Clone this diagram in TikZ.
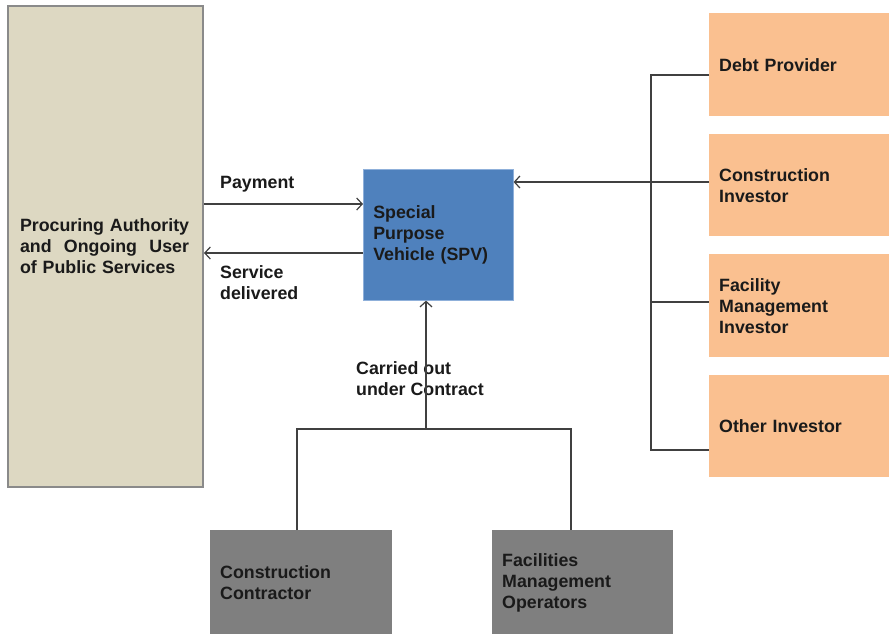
\documentclass[tikz,border=0pt]{standalone}
\usepackage{fontspec}
\setmainfont{Liberation Sans}
\usetikzlibrary{arrows.meta}
\definecolor{beigefill}{HTML}{DDD8C2}
\definecolor{beigeedge}{HTML}{8A8A8A}
\definecolor{spvblue}{HTML}{4F81BD}
\definecolor{spvedge}{HTML}{8FB0DA}
\definecolor{peach}{HTML}{FAC090}
\definecolor{greybox}{HTML}{7F7F7F}
\definecolor{wire}{HTML}{404040}
\definecolor{ink}{HTML}{1A1A1A}
\tikzset{
  lbl/.style={font=\fontsize{17.8}{21}\selectfont\bfseries, text=ink, align=left, inner sep=0pt},
  boxbase/.style={lbl, anchor=north west, inner xsep=10pt, inner ysep=0pt},
  beigebox/.style={boxbase, fill=beigefill, draw=beigeedge, line width=2pt, inner xsep=12pt},
  bluebox/.style={boxbase, fill=spvblue, draw=spvedge, line width=0.6pt},
  peachbox/.style={boxbase, fill=peach},
  greyb/.style={boxbase, fill=greybox},
  wireline/.style={draw=wire, line width=1.4pt},
  arr/.style={wireline, -{Straight Barb[length=5.5pt,width=12pt,line width=1.2pt]}}
}
\begin{document}
\begin{tikzpicture}[x=1pt,y=-1pt]
\useasboundingbox (0,0) rectangle (889,633);
% boxes
\node[beigebox, minimum width=195pt, minimum height=481pt, text width=171pt] (auth) at (7,5)
  {Procuring Authority\\\leavevmode\makebox[169pt][l]{and\hfill Ongoing\hfill User}\\of Public Services};
\node[bluebox, minimum width=150pt, minimum height=131pt, text width=130pt] (spv) at (363,169)
  {Special\\Purpose\\Vehicle (SPV)};
\node[peachbox, minimum width=182pt, minimum height=103pt, text width=162pt] (debt) at (709,13)
  {Debt Provider};
\node[peachbox, minimum width=182pt, minimum height=102pt, text width=162pt] (ci) at (709,134)
  {Construction\\Investor};
\node[peachbox, minimum width=182pt, minimum height=103pt, text width=162pt] (fmi) at (709,254)
  {Facility\\Management\\Investor};
\node[peachbox, minimum width=182pt, minimum height=102pt, text width=162pt] (oi) at (709,375)
  {Other Investor};
\node[greyb, minimum width=182pt, minimum height=105pt, text width=162pt] (cc) at (210,530)
  {Construction\\Contractor};
\node[greyb, minimum width=181pt, minimum height=105pt, text width=161pt] (fmo) at (492,530)
  {Facilities\\Management\\Operators};
% labels
\node[lbl, anchor=west] (lpay) at (220,184) {Payment};
\node[lbl, anchor=west] (lsrv) at (220,282.5) {Service\\delivered};
\node[lbl, anchor=west] (lcar) at (356,378.5) {Carried out\\under Contract};
% coordinates
\coordinate (bt) at (651,75);
\coordinate (bb) at (651,450);
\coordinate (bm) at (651,302);
\coordinate (jl) at (297,429);
\coordinate (jr) at (571,429);
\coordinate (jm) at (426,429);
% connectors
\draw[arr] (auth.east |- 0,204) -- (spv.west |- 0,204);
\draw[arr] (spv.west |- 0,253) -- (auth.east |- 0,253);
\draw[wireline] (debt.west |- bt) -- (bt) -- (bb) -- (oi.west |- bb);
\draw[wireline] (bm) -- (fmi.west |- bm);
\draw[arr] (ci.west |- 0,182) -- (spv.east |- 0,182);
\draw[wireline] (cc.north -| jl) -- (jl) -- (jr) -- (fmo.north -| jr);
\draw[arr] (jm) -- (spv.south -| jm);
\end{tikzpicture}
\end{document}
